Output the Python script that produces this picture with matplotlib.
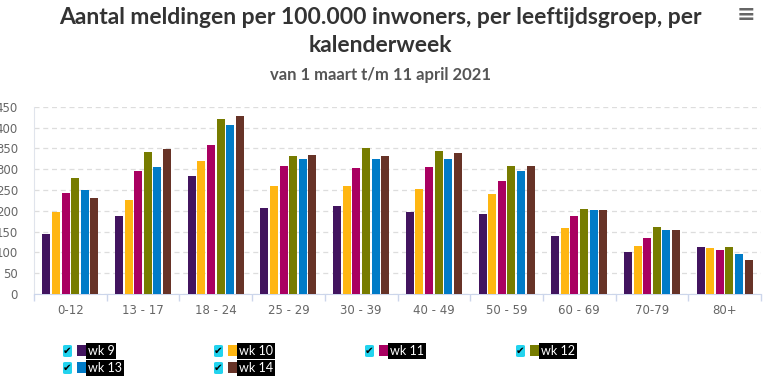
import matplotlib.pyplot as plt
import matplotlib.patches as mpatches
import numpy as np

# age groups and weekly values (per 100.000 inhabitants)
groups = ['0-12', '13 - 17', '18 - 24', '25 - 29', '30 - 39', '40 - 49',
          '50 - 59', '60 - 69', '70-79', '80+']
weeks = ['wk 9', 'wk 10', 'wk 11', 'wk 12', 'wk 13', 'wk 14']
wk9 = [145, 187, 283, 207, 211, 197, 192, 139, 101, 113]
wk10 = [198, 226, 319, 259, 259, 252, 240, 158, 115, 110]
wk11 = [243, 295, 358, 307, 303, 305, 271, 187, 135, 106]
wk12 = [279, 341, 420, 331, 351, 343, 307, 204, 161, 113]
wk13 = [251, 305, 406, 324, 324, 324, 295, 202, 154, 96]
wk14 = [231, 348, 428, 334, 331, 339, 307, 202, 154, 82]
series = [wk9, wk10, wk11, wk12, wk13, wk14]
colors = ['#42145f', '#ffb612', '#a90061', '#777c00', '#007bc7', '#673327']

W, H = 765, 391
fig = plt.figure(figsize=(W / 100, H / 100), dpi=100)
ax = fig.add_axes([34 / W, (H - 294) / H, 727 / W, 187.3 / H])

x = np.arange(len(groups))
step = 0.132
for i, vals in enumerate(series):
    ax.bar(x + (i - 2.5) * step, vals, width=0.11, color=colors[i], zorder=3)

ax.set_xlim(-0.5, len(groups) - 0.5)
ax.set_ylim(0, 450)
ax.set_yticks(range(0, 451, 50))
ax.set_xticks(x)
ax.set_xticklabels(groups)
ax.set_xticks(np.arange(-0.5, len(groups), 1), minor=True)
ax.tick_params(axis='x', which='major', length=0, pad=7, labelsize=8.5, labelcolor='#666666')
ax.tick_params(axis='x', which='minor', length=5, color='#ccd6eb', width=1)
ax.tick_params(axis='y', length=0, pad=11.5, labelsize=8.5, labelcolor='#666666')
ax.grid(axis='y', color='#dddddd', linestyle=(0, (4, 3)), linewidth=0.9, zorder=0)
for s in ['top', 'right']:
    ax.spines[s].set_visible(False)
ax.spines['left'].set_color('#e0e4ec')
ax.spines['bottom'].set_color('#ccd6eb')

# titles
fig.text(380 / W, 1 - 17 / H, 'Aantal meldingen per 100.000 inwoners, per leeftijdsgroep, per',
         ha='center', va='center', fontsize=16.5, fontweight='bold', color='#333333',
         family='Lato')
fig.text(380 / W, 1 - 45 / H, 'kalenderweek', ha='center', va='center', fontsize=16.5,
         fontweight='bold', color='#333333', family='Lato')
fig.text(380 / W, 1 - 75 / H, 'van 1 maart t/m 11 april 2021', ha='center', va='center',
         fontsize=12, fontweight='bold', color='#555555', family='Lato')
fig.text(746 / W, 1 - 15 / H, '≡', ha='center', va='center', fontsize=16,
         fontweight='bold', color='#666666')

# legend with checkboxes
cols = [63, 214, 365, 516]
rows = [351, 368]
for i, name in enumerate(weeks):
    cx = cols[i % 4]
    cy = rows[i // 4]
    fig.patches.append(mpatches.FancyBboxPatch(
        (cx / W, 1 - (cy + 6) / H), 9 / W, 12 / H,
        boxstyle='round,pad=0,rounding_size=0.003', transform=fig.transFigure,
        facecolor='#22d3ee', edgecolor='none'))
    fig.text((cx + 4.5) / W, 1 - cy / H, '✔', ha='center', va='center', fontsize=7.5,
             color='black', family='DejaVu Sans')
    fig.patches.append(mpatches.Rectangle(
        ((cx + 14) / W, 1 - (cy + 5) / H), 9 / W, 11 / H,
        transform=fig.transFigure, facecolor=colors[i], edgecolor='none'))
    fig.text((cx + 25) / W, 1 - cy / H, name, ha='left', va='center', fontsize=9,
             color='white', family='Lato',
             bbox=dict(facecolor='black', edgecolor='none', pad=1.2))

fig.savefig('out.png', dpi=100)
